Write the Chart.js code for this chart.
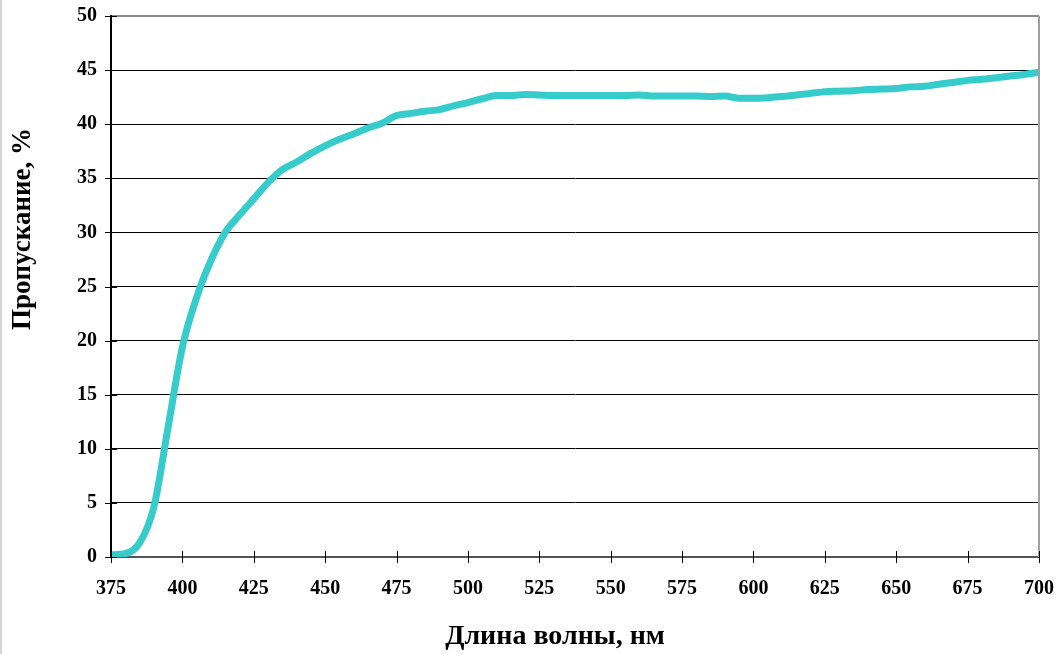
<!DOCTYPE html>
<html>
<head>
<meta charset="utf-8">
<script src="https://cdn.jsdelivr.net/npm/chart.js@4"></script>
<style>
  body { margin: 0; background: #fff; }
  #wrap { width: 1061px; height: 654px; position: relative; }
</style>
</head>
<body>
<div id="wrap"><canvas id="myChart"></canvas></div>
<script>
// длина волны, нм
const wavelengths = [
  375, 380, 385, 390, 395, 400, 405, 410, 415, 420, 425, 430, 435, 440, 445, 450,
  455, 460, 465, 470, 475, 480, 485, 490, 495, 500, 505, 510, 515, 520, 525, 530,
  535, 540, 545, 550, 555, 560, 565, 570, 575, 580, 585, 590, 595, 600, 605, 610,
  615, 620, 625, 630, 635, 640, 645, 650, 655, 660, 665, 670, 675, 680, 685, 690,
  695, 700
];
// пропускание, %
const transmission = [
  0.2, 0.3, 1.3, 4.6, 12.0, 19.4, 24.0, 27.4, 30.0, 31.6, 33.1, 34.6, 35.8, 36.5, 37.3, 38.0,
  38.6, 39.1, 39.65, 40.1, 40.8, 41.0, 41.2, 41.35, 41.7, 42.0, 42.35, 42.65, 42.65, 42.75, 42.7, 42.65,
  42.65, 42.65, 42.65, 42.65, 42.65, 42.7, 42.6, 42.6, 42.6, 42.6, 42.55, 42.6, 42.4, 42.4, 42.45, 42.55,
  42.7, 42.85, 43.0, 43.05, 43.1, 43.2, 43.25, 43.3, 43.45, 43.5, 43.7, 43.85, 44.05, 44.15, 44.3, 44.45,
  44.6, 44.8
];
const xTitle = 'Длина волны, нм';
const yTitle = 'Пропускание, %';

const font = 'Liberation Serif';

// крестики делений, рамка и подписи осей
const extras = {
  id: 'extras',
  afterDraw(chart) {
    const ctx = chart.ctx;
    const a = chart.chartArea;
    const xs = chart.scales.x, ys = chart.scales.y;
    ctx.save();
    ctx.strokeStyle = '#a0a0a0';
    ctx.lineWidth = 2;
    ctx.beginPath();
    ctx.moveTo(a.right, a.top);
    ctx.lineTo(a.right, a.bottom);
    ctx.stroke();

    ctx.strokeStyle = '#000';
    ctx.lineWidth = 1;
    ctx.beginPath();
    xs.ticks.forEach(t => {
      const px = Math.round(xs.getPixelForValue(t.value)) + 0.5;
      ctx.moveTo(px, a.bottom - 6);
      ctx.lineTo(px, a.bottom + 6);
    });
    ys.ticks.forEach(t => {
      const py = Math.round(ys.getPixelForValue(t.value)) + 0.5;
      ctx.moveTo(a.left - 6, py);
      ctx.lineTo(a.left + 6, py);
    });
    ctx.stroke();

    ctx.strokeStyle = '#d4d4d4';
    ctx.lineWidth = 2;
    ctx.beginPath();
    ctx.moveTo(1, 0);
    ctx.lineTo(1, 654);
    ctx.stroke();

    ctx.fillStyle = '#000';
    ctx.textAlign = 'center';
    ctx.textBaseline = 'middle';
    ctx.font = 'bold 28px "' + font + '"';
    ctx.fillText(xTitle, 555, 637);
    ctx.font = 'bold 27px "' + font + '"';
    ctx.translate(23, 229);
    ctx.rotate(-Math.PI / 2);
    ctx.fillText(yTitle, 0, 0);
    ctx.restore();
  }
};

let myChart = document.getElementById('myChart').getContext('2d');
let lineChart = new Chart(myChart, {
  type: 'line',
  data: {
    labels: wavelengths,
    datasets: [{
      label: yTitle,
      data: wavelengths.map((w, i) => ({ x: w, y: transmission[i] })),
      borderColor: '#36cccc',
      borderWidth: 7,
      pointRadius: 0,
      tension: 0.4,
      cubicInterpolationMode: 'monotone',
      fill: false
    }]
  },
  options: {
    responsive: true,
    maintainAspectRatio: false,
    animation: false,
    layout: { padding: { left: 0, top: 16, right: 22, bottom: 0 } },
    plugins: {
      legend: { display: false },
      tooltip: { enabled: false }
    },
    scales: {
      x: {
        type: 'linear',
        min: 375,
        max: 700,
        afterFit: s => { s.height = 97; s.paddingLeft = 0; s.paddingRight = 0; },
        ticks: {
          stepSize: 25,
          color: '#000',
          padding: 20,
          font: { family: font, size: 20, weight: 'bold' }
        },
        grid: { drawOnChartArea: false, drawTicks: false },
        border: { color: '#555', width: 2 }
      },
      y: {
        min: 0,
        max: 50,
        afterFit: s => { s.width = 111; s.paddingTop = 0; s.paddingBottom = 0; },
        ticks: {
          stepSize: 5,
          color: '#000',
          padding: 14,
          font: { family: font, size: 20, weight: 'bold' }
        },
        grid: {
          drawTicks: false,
          color: c => c.tick.value === 50 ? '#8c8c8c' : '#000',
          lineWidth: c => c.tick.value === 50 ? 2 : 1
        },
        border: { color: '#000', width: 2 }
      }
    }
  },
  plugins: [extras]
});
</script>
</body>
</html>
